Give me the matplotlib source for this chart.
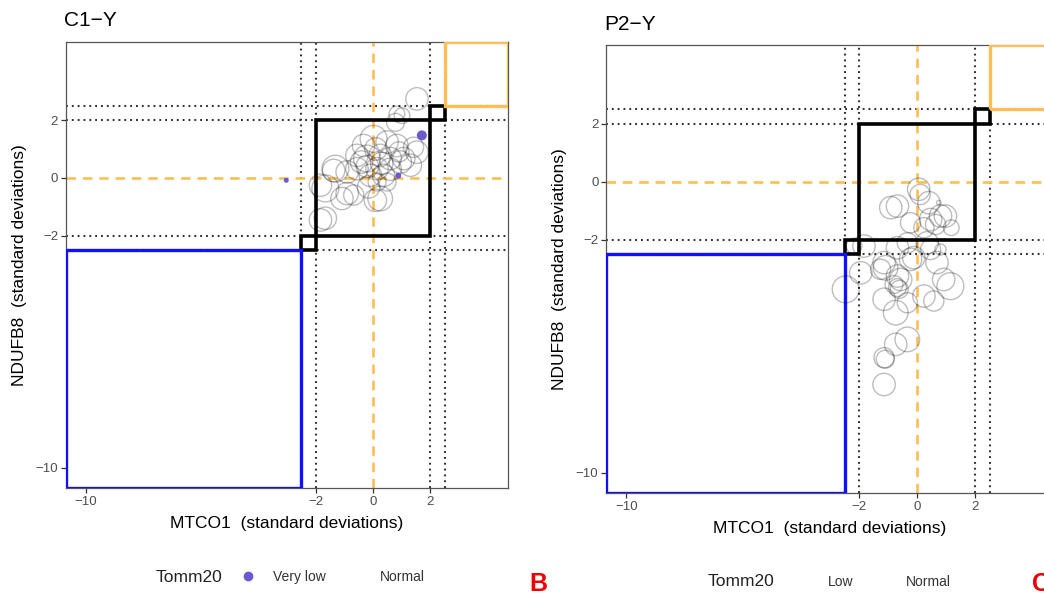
import matplotlib.pyplot as plt
from matplotlib.patches import Rectangle
from matplotlib.lines import Line2D

plt.rcParams['font.family'] = ['Liberation Sans', 'DejaVu Sans']

# C1-Y, normal fibres (hollow circles)
c1_x = [1.53, 0.83, 0.78, 1.01, 1.53, 1.30, 1.41, 0.83, 0.49, 0.02, -0.33, -0.56, -0.21,
        0.25, 0.60, 0.95, 1.07, 0.14, -0.09, 0.37, -0.56, -0.90, -1.31, -1.66, -1.83,
        -1.08, -0.67, -0.90, 0.25, 0.08, -0.15, 0.49, 0.14, -1.66, -1.83, -1.37,
        0.30, -0.20, 0.60, 0.90, 0.10, -0.40]
c1_y = [2.73, 2.21, 1.92, 2.15, 0.89, 0.44, 1.06, 1.12, 1.24, 1.35, 1.12, 0.78, 0.67,
        0.78, 0.67, 0.55, 0.67, 0.32, 0.09, 0.09, 0.32, 0.21, 0.32, -0.36, -0.25,
        -0.71, -0.59, -0.54, -0.71, -0.77, -0.31, -0.14, -0.14, -1.39, -1.45, 0.26,
        0.50, 0.40, 0.30, 0.90, 1.00, 0.55]
c1_r = [10, 7, 8, 7, 10, 10, 9, 10, 10, 12, 10, 10, 12,
        10, 10, 10, 10, 10, 10, 10, 10, 10, 12, 12, 10,
        10, 9, 10, 11, 10, 10, 8, 8, 10, 10, 10,
        10, 10, 10, 9, 10, 10]

# C1-Y, very low Tomm20
c1_vl_x = [-3.02, 0.88, 1.70]
c1_vl_y = [-0.08, 0.08, 1.47]
c1_vl_r = [2.5, 3, 5]

# P2-Y, normal fibres
p2_x = [0.05, 0.10, -0.68, -0.91, 0.74, 0.40, -0.23, 0.46, 0.80, 0.97, 0.23, 0.63, 1.17,
        -1.83, -2.17, -0.68, -0.34, 0.34, 0.46, 0.80, -0.23, -0.12, 0.68, -1.14, -1.26,
        -0.68, 0.91, -1.94, -2.46, -1.09, -0.57, -0.68, -0.80, -0.62, -1.14, -0.74,
        -0.34, 0.23, 0.57, 1.14, -0.74, -0.34, -1.14, -1.10, -1.14]
p2_y = [-0.26, -0.44, -0.84, -0.89, -0.72, -0.72, -1.41, -1.30, -1.18, -1.18, -1.58, -1.47, -1.58,
        -2.21, -2.21, -2.27, -2.10, -2.10, -2.33, -2.33, -2.67, -2.61, -2.78, -2.78, -3.01,
        -3.24, -3.36, -3.13, -3.70, -2.96, -3.36, -3.64, -3.53, -3.70, -4.04, -4.50,
        -4.16, -3.93, -4.10, -3.59, -5.59, -5.42, -6.05, -6.10, -6.97]
p2_r = [10, 9, 10, 10, 2, 10, 9, 10, 10, 10, 9, 9, 7,
        10, 7, 10, 9, 10, 9, 5, 10, 10, 10, 10, 9,
        10, 10, 10, 12, 11, 10, 8, 8, 8, 10, 11,
        9, 10, 9, 12, 10, 11, 9, 8, 10]

ticks = [-10, -2, 0, 2]
cuts = [-2.5, -2, 2, 2.5]
lims = (-10.7, 4.7)

orange = '#FFBE55'
purple = '#6A5ACD'


def px_to_s(r, k=1.12):
    # radius in pixels -> scatter area in points^2 (dpi 100)
    return [(2 * v * k * 0.72) ** 2 for v in r]


def draw_panel(ax, title, x, y, r, vl_x=None, vl_y=None, vl_r=None):
    ax.set_xlim(lims)
    ax.set_ylim(lims)
    for c in cuts:
        ax.axvline(c, color='#333333', lw=1.5, ls=(0, (0.9, 1.9)), zorder=1)
        ax.axhline(c, color='#333333', lw=1.5, ls=(0, (0.9, 1.9)), zorder=1)
    ax.axvline(0, color=orange, lw=1.9, ls=(0, (3.6, 2.6)), zorder=1)
    ax.axhline(0, color=orange, lw=1.9, ls=(0, (3.6, 2.6)), zorder=1)

    ax.add_patch(Rectangle((-2, -2), 4, 4, fill=False, ec='black', lw=2.6, zorder=3))
    ax.add_patch(Rectangle((-2.5, -2.5), 0.5, 0.5, fill=False, ec='black', lw=2.6, zorder=3))
    ax.add_patch(Rectangle((2, 2), 0.5, 0.5, fill=False, ec='black', lw=2.6, zorder=3))
    ax.add_patch(Rectangle((lims[0], lims[0]), -2.5 - lims[0], -2.5 - lims[0],
                           fill=False, ec='#1010FF', lw=2.4, zorder=3))
    ax.add_patch(Rectangle((2.5, 2.5), lims[1] - 2.5, lims[1] - 2.5,
                           fill=False, ec=orange, lw=2.4, zorder=3))

    ax.scatter(x, y, s=px_to_s(r), facecolors='none', edgecolors=(0, 0, 0, 0.26),
               linewidths=1.0, zorder=4)
    if vl_x is not None:
        ax.scatter(vl_x, vl_y, s=px_to_s(vl_r, 1.0), color=purple, zorder=5, linewidths=0)

    ax.set_xticks(ticks)
    ax.set_yticks(ticks)
    ax.tick_params(length=3.5, width=0.9, color='#333333', labelcolor='#4D4D4D',
                   labelsize=9.5, pad=2)
    for sp in ax.spines.values():
        sp.set_color('#555555')
        sp.set_linewidth(0.9)
    ax.set_xlabel('MTCO1  (standard deviations)', fontsize=12.5, labelpad=6)
    ax.set_ylabel('NDUFB8  (standard deviations)', fontsize=12.5, labelpad=6)
    ax.set_title(title, loc='left', fontsize=15, pad=11, x=-0.003)


fig = plt.figure(figsize=(10.44, 5.95), dpi=100)
ax1 = fig.add_axes([0.0629, 0.1798, 0.4237, 0.750])
ax2 = fig.add_axes([0.5805, 0.1714, 0.429, 0.753])

draw_panel(ax1, 'C1\u2212Y', c1_x, c1_y, c1_r, c1_vl_x, c1_vl_y, c1_vl_r)
draw_panel(ax2, 'P2\u2212Y', p2_x, p2_y, p2_r)

# legends
fig.text(156 / 1044, 1 - 577 / 595, 'Tomm20', fontsize=12.5, va='center', color='#222222')
fig.add_artist(Line2D([248 / 1044], [1 - 576 / 595], marker='o', ms=6, color=purple,
                      ls='none', transform=fig.transFigure))
fig.text(273 / 1044, 1 - 577 / 595, 'Very low', fontsize=10, va='center', color='#333333')
fig.text(380 / 1044, 1 - 577 / 595, 'Normal', fontsize=10, va='center', color='#333333')

fig.text(708 / 1044, 1 - 582 / 595, 'Tomm20', fontsize=12.5, va='center', color='#222222')
fig.text(828 / 1044, 1 - 582 / 595, 'Low', fontsize=10, va='center', color='#333333')
fig.text(906 / 1044, 1 - 582 / 595, 'Normal', fontsize=10, va='center', color='#333333')

fig.text(538 / 1044, 1 - 584 / 595, 'B', fontsize=18, fontweight='bold', color='#EE0000',
         ha='center', va='center')
# the reference crops this panel letter at the right edge
fig.text(1032 / 1044, 1 - 584 / 595, 'C', fontsize=18, fontweight='bold', color='#EE0000',
         ha='left', va='center')

fig.savefig('out.png', dpi=100)
